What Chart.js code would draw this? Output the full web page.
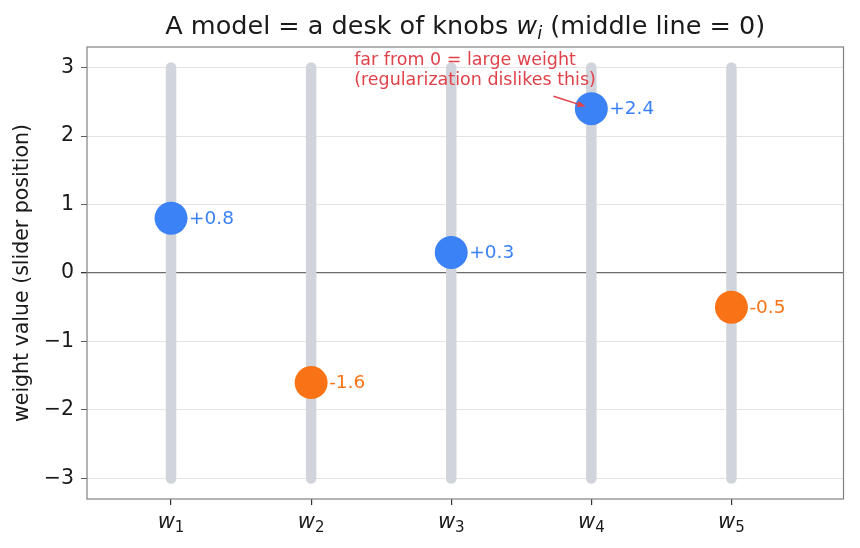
<!DOCTYPE html>
<html>
<head>
<meta charset="utf-8">
<script src="https://cdn.jsdelivr.net/npm/chart.js@4.4.1/dist/chart.umd.min.js"></script>
<style>
  html, body { margin: 0; padding: 0; background: #fff; }
  #wrap { width: 860px; height: 548px; position: relative; }
</style>
</head>
<body>
<div id="wrap"><canvas id="knobs"></canvas></div>
<script>
// -------------------------------------------- data
const knobNames = ['w1', 'w2', 'w3', 'w4', 'w5'];
const weights = [0.8, -1.6, 0.3, 2.4, -0.5];
const sliderRange = [-3, 3];
const yTicks = [-3, -2, -1, 0, 1, 2, 3];

const BLUE = '#3b82f6';
const ORANGE = '#f97316';
const SLIDER = '#d1d5db';
const NOTE = '#e0424a';
const INK = '#1a1a1a';
const FONT = "'DejaVu Sans', sans-serif";

// one thick grey line per knob
const sliderSets = knobNames.map((n, i) => ({
    type: 'line',
    data: sliderRange.map(v => ({x: i, y: v})),
    borderColor: SLIDER,
    borderWidth: 10.5,
    borderCapStyle: 'round',
    pointRadius: 0,
    order: 2,
}));

const knobSet = {
    type: 'scatter',
    label: 'weights',
    data: weights.map((v, i) => ({x: i, y: v})),
    backgroundColor: weights.map(v => v >= 0 ? BLUE : ORANGE),
    borderWidth: 0,
    pointRadius: 16.5,
    pointHoverRadius: 16.5,
    order: 1,
};

// -------------------------------------------- extras: title, frame, x labels, value labels, note
const extras = {
    id: 'extras',
    afterDraw(chart) {
        const {ctx, chartArea: a, scales} = chart;
        const sx = scales.x, sy = scales.y;
        ctx.save();

        // frame
        ctx.strokeStyle = '#808080';
        ctx.lineWidth = 1.2;
        ctx.strokeRect(a.left, a.top, a.right - a.left, a.bottom - a.top);

        // title with italic w and subscript i
        const parts = [
            ['A model = a desk of knobs ', 'normal 25.5px ' + FONT, 0],
            ['w', 'italic 25.5px ' + FONT, 0],
            ['i', 'italic 18px ' + FONT, 5],
            [' (middle line = 0)', 'normal 25.5px ' + FONT, 0],
        ];
        let total = 0;
        parts.forEach(p => { ctx.font = p[1]; total += ctx.measureText(p[0]).width; });
        let x = (a.left + a.right) / 2 - total / 2;
        ctx.fillStyle = INK;
        ctx.textBaseline = 'alphabetic';
        ctx.textAlign = 'left';
        parts.forEach(p => {
            ctx.font = p[1];
            ctx.fillText(p[0], x, 34 + p[2]);
            x += ctx.measureText(p[0]).width;
        });

        // x tick labels: italic w with upright subscript number
        sx.ticks.forEach((t, i) => {
            const name = knobNames[i];
            const cx = sx.getPixelForValue(t.value);
            ctx.font = 'italic 21px ' + FONT;
            const w1 = ctx.measureText(name[0]).width;
            ctx.font = '15px ' + FONT;
            const w2 = ctx.measureText(name.slice(1)).width;
            let lx = cx - (w1 + w2) / 2;
            ctx.font = 'italic 21px ' + FONT;
            ctx.fillText(name[0], lx, 528);
            ctx.font = '15px ' + FONT;
            ctx.fillText(name.slice(1), lx + w1, 532);
        });

        // value labels
        const meta = chart.getDatasetMeta(chart.data.datasets.length - 1);
        ctx.font = '18.5px ' + FONT;
        ctx.textBaseline = 'middle';
        meta.data.forEach((pt, i) => {
            const v = weights[i];
            ctx.fillStyle = v >= 0 ? BLUE : ORANGE;
            ctx.fillText((v >= 0 ? '+' : '') + v.toFixed(1), pt.x + 18, pt.y + 1);
        });

        // note + arrow
        ctx.fillStyle = NOTE;
        ctx.font = '17.5px ' + FONT;
        ctx.textBaseline = 'middle';
        ctx.fillText('far from 0 = large weight', sx.getPixelForValue(1.307), sy.getPixelForValue(3.1));
        ctx.fillText('(regularization dislikes this)', sx.getPixelForValue(1.307), sy.getPixelForValue(2.81));

        const x0 = sx.getPixelForValue(2.73), y0 = sy.getPixelForValue(2.58);
        const x1 = sx.getPixelForValue(2.96), y1 = sy.getPixelForValue(2.43);
        const ang = Math.atan2(y1 - y0, x1 - x0);
        ctx.strokeStyle = NOTE;
        ctx.lineWidth = 1.5;
        ctx.beginPath();
        ctx.moveTo(x0, y0);
        ctx.lineTo(x1 - 4 * Math.cos(ang), y1 - 4 * Math.sin(ang));
        ctx.stroke();
        ctx.beginPath();
        ctx.moveTo(x1, y1);
        ctx.lineTo(x1 - 9 * Math.cos(ang - 0.35), y1 - 9 * Math.sin(ang - 0.35));
        ctx.lineTo(x1 - 9 * Math.cos(ang + 0.35), y1 - 9 * Math.sin(ang + 0.35));
        ctx.closePath();
        ctx.fill();

        ctx.restore();
    }
};

// -------------------------------------------- chart
const ctx = document.querySelector('#knobs').getContext('2d');
const knobChart = new Chart(ctx, {
    type: 'scatter',
    data: { datasets: [...sliderSets, knobSet] },
    plugins: [extras],
    options: {
        responsive: true,
        maintainAspectRatio: false,
        animation: false,
        events: [],
        layout: { padding: { top: 47, right: 9, left: 0, bottom: 0 } },
        plugins: {
            legend: { display: false },
            tooltip: { enabled: false },
            title: { display: false },
        },
        scales: {
            x: {
                type: 'linear',
                min: -0.6,
                max: 4.8,
                afterBuildTicks: (s) => { s.ticks = knobNames.map((n, i) => ({value: i})); },
                afterFit: (s) => { s.height = 49; },
                grid: { drawOnChartArea: false, tickLength: 6, tickColor: '#333', lineWidth: 1.2 },
                border: { display: false },
                ticks: {
                    callback: () => '',
                    font: { family: FONT, size: 21 },
                    padding: 6,
                    maxRotation: 0,
                },
            },
            y: {
                min: -3.3,
                max: 3.3,
                afterBuildTicks: (s) => { s.ticks = yTicks.map(v => ({value: v})); },
                afterFit: (s) => { s.width = 87; },
                grid: {
                    color: (c) => c.tick && c.tick.value === 0 ? '#6b6b6b' : '#dcdcdc',
                    lineWidth: (c) => c.tick && c.tick.value === 0 ? 1.3 : 0.8,
                    tickLength: 6,
                    tickColor: '#333',
                },
                border: { display: false },
                ticks: {
                    callback: (v) => v < 0 ? '\u2212' + Math.abs(v) : String(v),
                    font: { family: FONT, size: 20.5 },
                    color: INK,
                    padding: 7,
                },
                title: {
                    display: true,
                    text: 'weight value (slider position)',
                    font: { family: FONT, size: 20.5 },
                    color: INK,
                    padding: { top: 10, bottom: 0 },
                },
            },
        },
    },
});
</script>
</body>
</html>
